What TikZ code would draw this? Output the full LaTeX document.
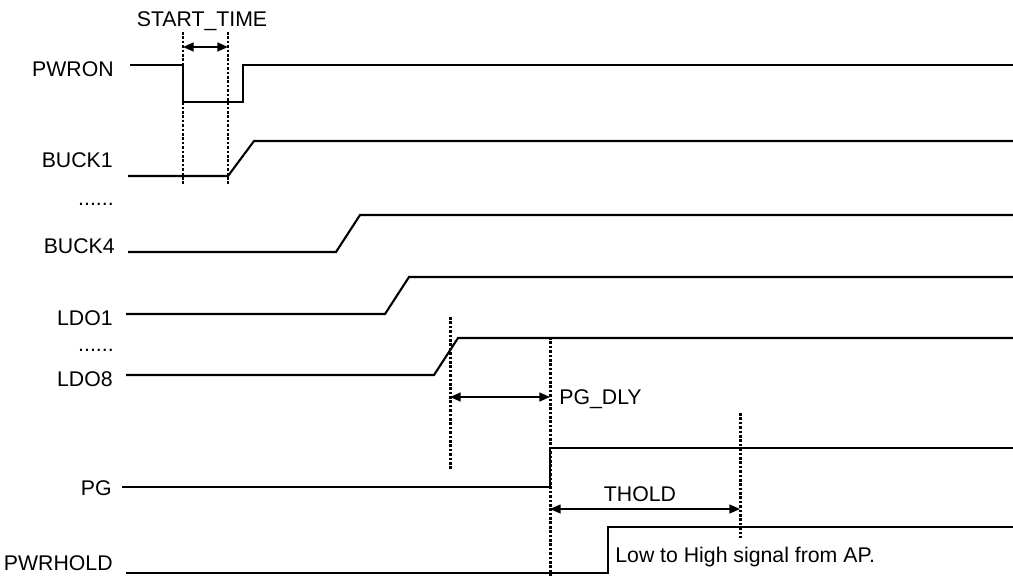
\documentclass[tikz,border=0pt]{standalone}
\usepackage{fontspec}
\setmainfont{Liberation Sans}
\usetikzlibrary{arrows.meta}

\begin{document}
\begin{tikzpicture}[
        x=0.02cm, y=-0.02cm,
        every node/.style={font=\fontsize{12.1}{14}\selectfont, inner sep=0pt},
        signal/.style={draw, line width=1.2pt},
        marker/.style={draw, line width=1.7pt, dash pattern=on 1.5pt off 1pt},
        timing/.style={draw, line width=1pt, {Triangle[length=6pt,width=5pt]}-{Triangle[length=6pt,width=5pt]}},
        sig/.style={anchor=base east}
    ]
        \useasboundingbox (0,0) rectangle (1013,576);

        % signal names
        \node[sig] (pwron) at (114,76) {PWRON};
        \node[sig] (buck1) at (113,167) {BUCK1};
        \node[sig] (dotsa) at (114,205) {......};
        \node[sig] (buck4) at (115,253) {BUCK4};
        \node[sig] (ldo1) at (113,325) {LDO1};
        \node[sig] (dotsb) at (114,351) {......};
        \node[sig] (ldo8) at (113,386) {LDO8};
        \node[sig] (pg) at (112,495) {PG};
        \node[sig] (pwrhold) at (113,570) {PWRHOLD};

        % waveforms
        \draw[signal] (130,65) -- (183,65) -- (183,102) -- (243,102) -- (243,65) -- (1013,65);
        \draw[signal] (128,176) -- (228,176) -- (254,141) -- (1013,141);
        \draw[signal] (128,252) -- (336,252) -- (360,215) -- (1013,215);
        \draw[signal] (126,314) -- (385,314) -- (409,277) -- (1013,277);
        \draw[signal] (126,375) -- (434,375) -- (458,338) -- (1013,338);
        \draw[signal] (122,487) -- (550,487) -- (550,448) -- (1013,448);
        \draw[signal] (126,573) -- (608,573) -- (608,527) -- (1013,527);

        % timing markers
        \coordinate (st1top) at (183,32);
        \coordinate (st1bot) at (183,185);
        \coordinate (st2top) at (228,32);
        \coordinate (st2bot) at (228,185);
        \coordinate (dly1top) at (450,317);
        \coordinate (dly1bot) at (450,470);
        \coordinate (dly2top) at (550,337);
        \coordinate (dly2bot) at (550,576);
        \coordinate (holdtop) at (740,413);
        \coordinate (holdbot) at (740,538);
        \draw[marker] (st1top) -- (st1bot);
        \draw[marker] (st2top) -- (st2bot);
        \draw[marker] (dly1top) -- (dly1bot);
        \draw[marker] (dly2top) -- (dly2bot);
        \draw[marker] (holdtop) -- (holdbot);

        \coordinate (stA) at (183,47);
        \coordinate (stB) at (228,47);
        \coordinate (dlyA) at (450,397);
        \coordinate (dlyB) at (550,397);
        \coordinate (holdA) at (550,509);
        \coordinate (holdB) at (740,509);
        \draw[timing] (stA) -- (stB);
        \draw[timing] (dlyA) -- (dlyB);
        \draw[timing] (holdA) -- (holdB);

        \node[anchor=base] (starttime) at (202,26) {START\_TIME};
        \node[anchor=base west] (pgdly) at (559,404) {PG\_DLY};
        \node[anchor=base] (thold) at (640,501) {THOLD};
        \node[anchor=base west] (apnote) at (615,562) {Low to High signal from AP.};
    \end{tikzpicture}
\end{document}
